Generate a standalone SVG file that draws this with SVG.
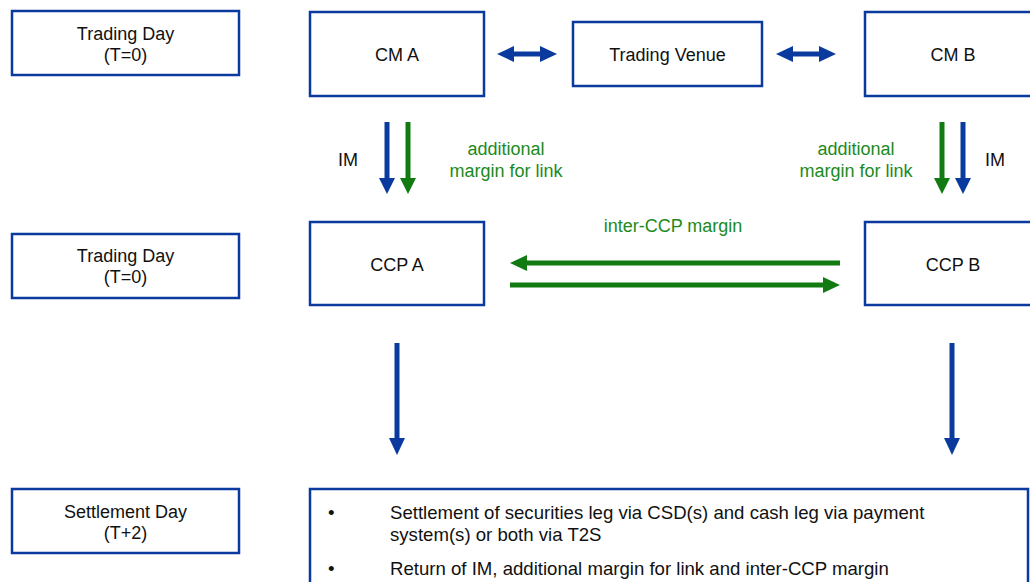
<svg xmlns="http://www.w3.org/2000/svg" width="1030" height="582" viewBox="0 0 1030 582">
<style>
.box{fill:#fff;stroke:#0a3a9e;stroke-width:2.5}
.t{font-family:"Liberation Sans",Arial,sans-serif;font-size:18px;fill:#111;text-anchor:middle}
.g{fill:#1c8a1c}
.bl{stroke:#0a3a9e;stroke-width:5;fill:none}
.gr{stroke:#117a11;stroke-width:5;fill:none}
.hb{fill:#0a3a9e}
.hg{fill:#117a11}
.l{text-anchor:start;font-size:18.6px}
</style>
<rect width="1030" height="582" fill="#fff"/>
<g id="day1"><rect class="box" x="12" y="11" width="227" height="64"/><text class="t" x="125.5" y="40">Trading Day</text><text class="t" x="125.5" y="61">(T=0)</text></g>
<g id="day2"><rect class="box" x="12" y="234" width="227" height="64"/><text class="t" x="125.5" y="262">Trading Day</text><text class="t" x="125.5" y="283">(T=0)</text></g>
<g id="day3"><rect class="box" x="12" y="489" width="227" height="64"/><text class="t" x="125.5" y="518">Settlement Day</text><text class="t" x="125.5" y="539">(T+2)</text></g>
<g id="cma"><rect class="box" x="310" y="12" width="174" height="84"/><text class="t" x="397" y="60.5">CM A</text></g>
<g id="tv"><rect class="box" x="573" y="22" width="189" height="64"/><text class="t" x="667.5" y="60.5">Trading Venue</text></g>
<g id="cmb"><rect class="box" x="865" y="12" width="175" height="84"/><text class="t" x="953" y="60.5">CM B</text></g>
<g id="ccpa"><rect class="box" x="310" y="222" width="174" height="83"/><text class="t" x="397" y="270.5">CCP A</text></g>
<g id="ccpb"><rect class="box" x="865" y="222" width="175" height="83"/><text class="t" x="953" y="270.5">CCP B</text></g>
<g id="settle"><rect class="box" x="310" y="489" width="718" height="100"/>
<text class="t l" x="328" y="518.5">•</text><text class="t l" x="390" y="518.5">Settlement of securities leg via CSD(s) and cash leg via payment</text>
<text class="t l" x="390" y="540.5">system(s) or both via T2S</text>
<text class="t l" x="328" y="574.5">•</text><text class="t l" x="390" y="574.5">Return of IM, additional margin for link and inter-CCP margin</text></g>
<g id="connectors">
<line class="bl" x1="512" y1="54" x2="542" y2="54"/><polygon class="hb" points="497,54 514,46 514,62"/><polygon class="hb" points="557,54 540,46 540,62"/>
<line class="bl" x1="791" y1="54" x2="821" y2="54"/><polygon class="hb" points="776,54 793,46 793,62"/><polygon class="hb" points="836,54 819,46 819,62"/>
<line class="bl" x1="387" y1="122" x2="387" y2="180"/><polygon class="hb" points="379,178 395,178 387,194"/>
<line class="gr" x1="408" y1="122" x2="408" y2="180"/><polygon class="hg" points="400,178 416,178 408,194"/>
<line class="gr" x1="942" y1="122" x2="942" y2="180"/><polygon class="hg" points="934,178 950,178 942,194"/>
<line class="bl" x1="963" y1="122" x2="963" y2="180"/><polygon class="hb" points="955,178 971,178 963,194"/>
<line class="gr" x1="840" y1="263" x2="524" y2="263"/><polygon class="hg" points="510,263 527,255 527,271"/>
<line class="gr" x1="510" y1="285" x2="826" y2="285"/><polygon class="hg" points="840,285 823,277 823,293"/>
<line class="bl" x1="397" y1="343" x2="397" y2="440"/><polygon class="hb" points="389,438 405,438 397,455"/>
<line class="bl" x1="952" y1="343" x2="952" y2="440"/><polygon class="hb" points="944,438 960,438 952,455"/>
</g>
<g id="labels">
<text class="t" x="348" y="165.5">IM</text>
<text class="t g" x="506" y="154.5">additional</text><text class="t g" x="506" y="176.5">margin for link</text>
<text class="t g" x="856" y="154.5">additional</text><text class="t g" x="856" y="176.5">margin for link</text>
<text class="t" x="995" y="165.5">IM</text>
<text class="t g" x="673" y="231.5">inter-CCP margin</text>
</g>
</svg>
